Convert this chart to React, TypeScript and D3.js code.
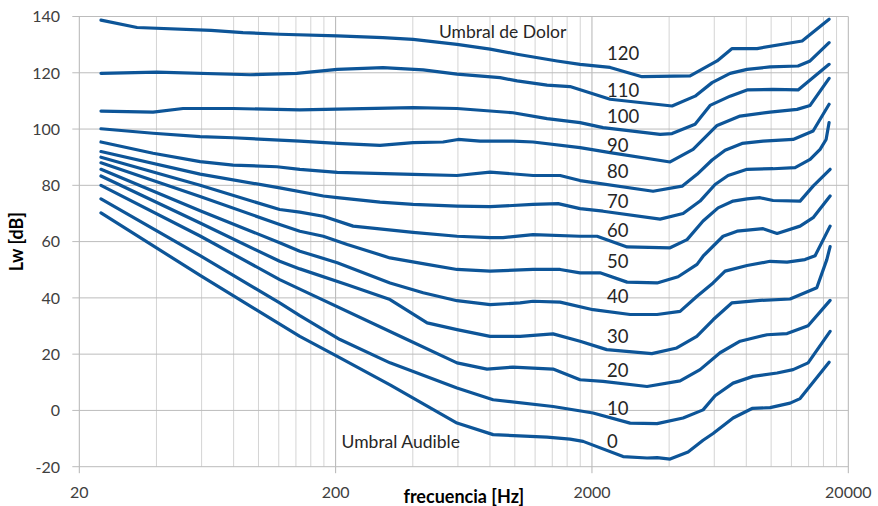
import React from "react";
import * as d3 from "d3";

const W = 878;
const H = 506;

// Axis ticks
const xTickValues = [20, 200, 2000, 20000];
const yTickValues = [-20, 0, 20, 40, 60, 80, 100, 120, 140];
const phonLevels = [0, 10, 20, 30, 40, 50, 60, 70, 80, 90, 100, 110, 120];

// Equal-loudness curves: [frequency Hz, level dB]
const phon0: [number, number][] = [[24.3,70.2],[59.2,48],[145,26.3],[203,19.2],[326,9.1],[595,-4.5],[823,-8.6],[1336,-9.5],[1642,-10.2],[1847,-11],[2645,-16.4],[3280,-16.9],[3590,-16.8],[4035,-17.3],[4742,-14.8],[5426,-10.6],[5936,-8.2],[7106,-2.7],[8425,0.7],[9906,1.0],[11856,2.6],[12970,4.2],[16832,17.1]];
const phon10: [number, number][] = [[24.3,75.2],[59.2,55],[121,38.2],[145,33.7],[208,25.2],[326,16.9],[595,8.0],[823,3.8],[1410,1.4],[2020,-0.9],[2817,-4.5],[3590,-4.7],[4535,-2.7],[5426,0.2],[6044,5.2],[7106,9.7],[8502,12.1],[10550,13.3],[12180,14.5],[13938,16.9],[16984,28.1]];
const phon20: [number, number][] = [[24.3,80.0],[59.2,62],[121,46.5],[145,43.1],[380,25.2],[595,16.9],[779,14.7],[984,15.4],[1410,14.7],[1797,10.9],[2210,10.3],[3280,8.5],[4414,10.5],[5282,14.5],[6322,20.5],[7566,24.6],[9642,26.9],[11540,27.3],[13938,30.1],[16984,39.1]];
const phon30: [number, number][] = [[24.3,83.3],[59.2,66.6],[121,53.0],[145,50.3],[222,44.7],[326,39.4],[455,31.1],[595,28.7],[801,26.3],[1049,26.3],[1410,27.2],[1797,24.6],[2284,21.6],[3424,20.2],[4284,22.2],[5128,26.3],[5950,32.3],[7020,38.2],[9054,39.1],[11856,39.6],[15070,43.6],[16488,53.6],[16984,58.2]];
const phon40: [number, number][] = [[24.3,85.7],[59.2,71],[121,59.6],[145,56.6],[203,52.5],[326,45.3],[439,41.8],[595,39.0],[801,37.6],[1049,38.2],[1178,38.8],[1502,38.5],[2020,35.8],[2817,34.1],[3590,34.1],[4414,35.2],[5140,40.6],[5936,45.3],[6613,49.5],[8056,51.5],[9906,53.0],[11540,52.7],[13550,53.6],[14844,55],[16984,65.5]];
const phon50: [number, number][] = [[24.3,88.0],[59.2,76],[121,66.1],[145,63.7],[179,61.9],[222,59.0],[326,54.2],[455,51.9],[595,50.1],[801,49.5],[1178,50.1],[1502,50.1],[1797,48.9],[2150,48.9],[2742,45.6],[3590,45.3],[4335,47.5],[5140,51.9],[5426,54.8],[6495,61.9],[7366,63.7],[9302,64.6],[10550,62.9],[12970,65.5],[14580,68.5],[16984,76.2]];
const phon60: [number, number][] = [[24.3,90.0],[59.2,80],[121,71.4],[145,70.5],[179,69.0],[234,65.5],[401,63.3],[595,61.9],[801,61.4],[900,61.4],[1178,62.5],[1797,61.9],[2094,61.9],[2742,58.1],[4035,57.8],[4700,60.7],[5426,67.3],[6209,72.0],[7106,74.4],[8056,75.2],[9054,75.6],[10176,74.6],[12970,74.4],[14580,79.7],[16984,85.7]];
const phon70: [number, number][] = [[24.3,92.0],[59.2,84],[121,79.1],[179,76.2],[203,75.6],[298,74.0],[401,73.2],[595,72.6],[801,72.4],[1178,73.2],[1475,73.5],[1797,71.7],[2210,70.8],[3688,68.0],[4535,70.0],[5282,74.4],[6044,80.3],[6792,83.5],[8056,85.7],[10176,85.9],[12400,86.3],[14192,89.2],[15524,92.8],[16384,96.3],[16832,102.3]];
const phon80: [number, number][] = [[24.3,95.4],[38.8,91.4],[59.2,88.4],[79.6,87.2],[118,86.6],[145,85.7],[203,84.6],[401,83.9],[595,83.5],[801,84.7],[1178,83.5],[1502,83.5],[1797,81.7],[3463,77.9],[4494,79.7],[5140,83.9],[5883,89.0],[6613,92.5],[7702,94.9],[9302,95.7],[12180,96.3],[14580,99.3],[16832,108.8]];
const phon90: [number, number][] = [[24.3,100.1],[38.8,98.5],[59.2,97.3],[79.6,96.9],[145,95.7],[203,94.9],[298,94.2],[401,95.2],[525,95.4],[601,96.3],[732,95.7],[984,95.7],[1178,95.4],[1797,93.4],[2354,91.6],[4035,88.3],[4960,92.8],[5426,96.3],[6154,101.3],[7566,104.6],[9906,106.0],[12624,107.0],[14192,108.4],[16832,118.0]];
const phon100: [number, number][] = [[24.3,106.4],[38.8,106.0],[50.8,107.3],[79.6,107.3],[145,106.8],[401,107.6],[595,107.3],[984,105.8],[1336,103.7],[1797,102.3],[2210,100.5],[3688,98.1],[4107,98.4],[5050,101.7],[5778,108.4],[6916,111.7],[8056,113.9],[10176,114.1],[12738,113.9],[16832,123.0]];
const phon110: [number, number][] = [[24.3,119.8],[40.2,120.2],[92.7,119.3],[141,119.8],[203,121.2],[306,121.8],[439,121],[595,119.5],[876,118.3],[1021,117.1],[1336,115.6],[1642,115.1],[2354,110.6],[4107,108.2],[5050,111.7],[5883,116.5],[6916,119.8],[8056,121.2],[9906,122.1],[12738,122.4],[14192,124.2],[16832,130.7]];
const phon120: [number, number][] = [[24.3,138.7],[33.6,136.1],[65.3,135.1],[87,134.3],[121,133.7],[203,133.1],[306,132.5],[401,131.9],[595,130.1],[801,128.4],[1021,126.6],[1462,124.2],[1797,123.0],[2354,121.9],[3136,118.6],[4829,118.9],[6154,124.2],[7043,128.6],[8813,128.6],[13206,131.3],[16832,139.0]];

const curves = [phon0, phon10, phon20, phon30, phon40, phon50, phon60, phon70, phon80, phon90, phon100, phon110, phon120];

// Curve label anchors (frequency, level of text baseline)
const labelFreq = 2290;
const labelLevels = [-13.5, -1.6, 11.8, 23.8, 38.1, 50.5, 61.7, 71.8, 82.5, 91.9, 102.0, 111.5, 124.5];

// Annotations
const topNote = { text: "Umbral de Dolor", freq: 506, level: 132.2 };
const bottomNote = { text: "Umbral Audible", freq: 211, level: -13.5 };

const xTitle = "frecuencia [Hz]";
const yTitle = "Lw [dB]";

const FONT = "Lato, 'Open Sans', sans-serif";
const LINE = "#0d5598";

export default function App() {
  const left = 79.3, right = 848.3, top = 16.5, bottom = 466.7;
  const x = d3.scaleLog().domain([20, 20000]).range([left, right]);
  const y = d3.scaleLinear().domain([-20, 140]).range([bottom, top]);

  const minorX: number[] = [];
  xTickValues.slice(0, -1).forEach((d) => {
    for (let k = 2; k <= 9; k++) minorX.push(d * k);
  });

  const line = d3
    .line<[number, number]>()
    .x((d) => x(d[0]))
    .y((d) => y(d[1]));

  return (
    <svg
      width={W}
      height={H}
      style={{ position: "absolute", left: 0, top: 0, background: "#fff" }}
    >
      <rect x={0} y={0} width={W} height={H} fill="#fff" />
      {/* minor vertical grid */}
      {minorX.map((v) => (
        <line key={"mx" + v} x1={x(v)} x2={x(v)} y1={top} y2={bottom} stroke="#d4d4d4" strokeWidth={1} />
      ))}
      {/* major vertical grid */}
      {xTickValues.map((v) => (
        <line key={"Mx" + v} x1={x(v)} x2={x(v)} y1={top} y2={bottom + 6.5} stroke="#b4b4b4" strokeWidth={1} />
      ))}
      {/* horizontal grid */}
      {yTickValues.map((v) => (
        <line key={"gy" + v} x1={left - 7} x2={right} y1={y(v)} y2={y(v)} stroke="#bcbcbc" strokeWidth={1} />
      ))}

      {/* curves */}
      {curves.map((c, i) => (
        <path
          key={"c" + i}
          d={line(c) || ""}
          fill="none"
          stroke={LINE}
          strokeWidth={3.2}
          strokeLinejoin="round"
          strokeLinecap="round"
        />
      ))}

      {/* y tick labels */}
      {yTickValues.map((v) => (
        <text key={"ty" + v} x={60} y={y(v) + 5.8} textAnchor="end" fontFamily={FONT} fontSize={16} fill="#404040">
          {v}
        </text>
      ))}
      {/* x tick labels */}
      {xTickValues.map((v) => (
        <text key={"tx" + v} x={x(v)} y={498.3} textAnchor="middle" fontFamily={FONT} fontSize={16} fill="#404040">
          {v}
        </text>
      ))}

      {/* curve labels */}
      {phonLevels.map((p, i) => (
        <text key={"l" + p} x={x(labelFreq)} y={y(labelLevels[i])} fontFamily={FONT} fontSize={18.5} fill="#262626">
          {p}
        </text>
      ))}

      <text x={x(topNote.freq)} y={y(topNote.level)} fontFamily={FONT} fontSize={17.5} fill="#262626">
        {topNote.text}
      </text>
      <text x={x(bottomNote.freq)} y={y(bottomNote.level)} fontFamily={FONT} fontSize={17.5} fill="#262626">
        {bottomNote.text}
      </text>

      {/* axis titles */}
      <text x={(left + right) / 2} y={503} textAnchor="middle" fontFamily={FONT} fontWeight="bold" fontSize={18} fill="#000">
        {xTitle}
      </text>
      <text
        transform={`translate(23, ${(top + bottom) / 2}) rotate(-90)`}
        textAnchor="middle"
        fontFamily={FONT}
        fontWeight="bold"
        fontSize={18}
        fill="#000"
      >
        {yTitle}
      </text>
    </svg>
  );
}
